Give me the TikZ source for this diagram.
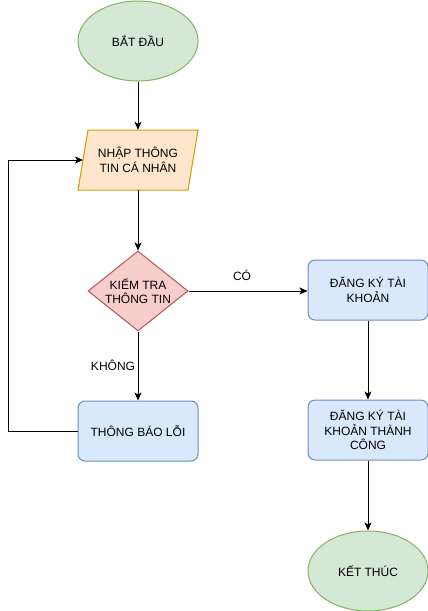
\documentclass[tikz,border=0pt]{standalone}
\usepackage{fontspec}
\setmainfont{Liberation Sans}
\usetikzlibrary{shapes.geometric,arrows.meta}
\definecolor{gfill}{HTML}{D5E8D4}\definecolor{gline}{HTML}{82B366}
\definecolor{ofill}{HTML}{FFE6CC}\definecolor{oline}{HTML}{D79B00}
\definecolor{rfill}{HTML}{F8CECC}\definecolor{rline}{HTML}{B85450}
\definecolor{bfill}{HTML}{DAE8FC}\definecolor{bline}{HTML}{6C8EBF}
\begin{document}
\begin{tikzpicture}[x=1pt,y=-1pt,
  every node/.style={font=\fontsize{12}{14.5}\selectfont, align=center, inner sep=0pt},
  term/.style={ellipse, draw=gline, fill=gfill, line width=1pt, minimum width=120pt, minimum height=80pt},
  inbox/.style={rectangle, minimum width=100pt, minimum height=60pt},
  check/.style={diamond, draw=rline, fill=rfill, line width=1pt, minimum width=100pt, minimum height=80pt, aspect=1.25},
  proc/.style={rectangle, rounded corners=7pt, draw=bline, fill=bfill, line width=1pt, minimum width=120pt, minimum height=60pt},
  conn/.style={-{Stealth[length=8pt,width=7pt,inset=2pt]}, line width=1pt},
  lbl/.style={font=\fontsize{12}{14.5}\selectfont}]
\useasboundingbox (0,0) rectangle (428,611);
\draw[draw=oline, fill=ofill, line width=1pt] (88,130) -- (198,130) -- (188,190) -- (78,190) -- cycle;
\node[term] (start) at (138,41) {BẮT ĐẦU};
\node[inbox] (input) at (138,160) {NHẬP THÔNG\\ TIN CÁ NHÂN};
\node[check] (chk) at (138,291) {KIỂM TRA\\THÔNG TIN};
\node[proc] (err) at (138,431) {THÔNG BÁO LỖI};
\node[proc] (reg) at (368,290) {ĐĂNG KÝ TÀI\\KHOẢN};
\node[proc] (ok) at (368,430) {ĐĂNG KÝ TÀI\\KHOẢN THÀNH\\CÔNG};
\node[term] (end) at (368,571) {KẾT THÚC};
\coordinate (l1) at (8,431);
\coordinate (l2) at (8,160);
\coordinate (inleft) at (83,160);
\draw[conn] (start) -- (input);
\draw[conn] (input) -- (chk);
\draw[conn] (chk.east) -- (reg.west |- chk.east);
\node[lbl] (co) at (242,275) {CÓ};
\draw[conn] (chk) -- (err);
\node[lbl] (khong) at (113,365) {KHÔNG};
\draw[conn] (err.west) -- (l1) -- (l2) -- (inleft);
\draw[conn] (reg) -- (ok);
\draw[conn] (ok) -- (end);
\end{tikzpicture}
\end{document}
